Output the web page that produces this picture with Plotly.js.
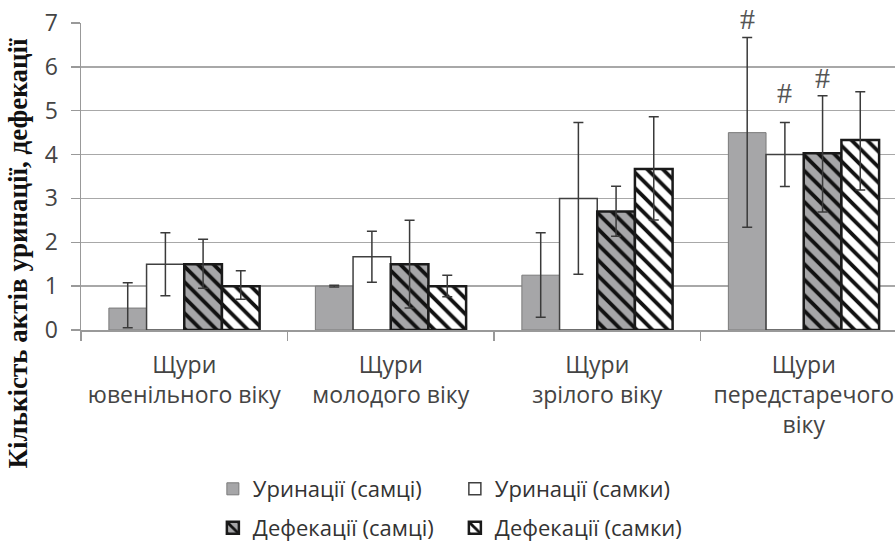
<!DOCTYPE html>
<html>
<head>
<meta charset="utf-8">
<script src="https://cdn.plot.ly/plotly-3.0.1.min.js"></script>
<style>html,body{margin:0;padding:0;background:#fff;}#chart{width:895px;height:546px;}</style>
</head>
<body>
<div id="chart"></div>
<script>
const categories = ["Щури<br>ювенільного віку", "Щури<br>молодого віку", "Щури<br>зрілого віку", "Щури<br>передстаречого<br>віку"];
const seriesNames = ["Уринації (самці)", "Уринації (самки)", "Дефекації (самці)", "Дефекації (самки)"];
const urinMale = [0.5, 1.0, 1.25, 4.5];
const urinFemale = [1.5, 1.67, 3.0, 4.0];
const defMale = [1.5, 1.5, 2.7, 4.03];
const defFemale = [1.0, 1.0, 3.67, 4.33];
const urinMaleErrPlus = [0.58, 0.02, 0.97, 2.17];
const urinMaleErrMinus = [0.45, 0.02, 0.96, 2.16];
const urinFemaleErr = [0.72, 0.58, 1.73, 0.73];
const defMaleErrPlus = [0.57, 1.0, 0.58, 1.31];
const defMaleErrMinus = [0.55, 1.0, 0.56, 1.34];
const defFemaleErrPlus = [0.35, 0.25, 1.19, 1.1];
const defFemaleErrMinus = [0.30, 0.24, 1.16, 1.14];
// significance marks: [series index, category index]
const hashMarks = [[0, 3], [1, 3], [2, 3]];
const yTicks = [0, 1, 2, 3, 4, 5, 6, 7];
const yTitle = "Кількість актів уринації, дефекації";

const font = "Open Sans, Noto Sans, sans-serif";
const bargap = 0.27;
const gray = "#a6a6a8";
const errStyle = {color: "#3a3a3a", thickness: 1.5, width: 5};

const values = [urinMale, urinFemale, defMale, defFemale];
const plusArr = [urinMaleErrPlus, urinFemaleErr, defMaleErrPlus, defFemaleErrPlus];
const minusArr = [urinMaleErrMinus, urinFemaleErr, defMaleErrMinus, defFemaleErrMinus];

const markers = [
  {color: gray, line: {color: "#7a7a7a", width: 1}},
  {color: "#ffffff", line: {color: "#404040", width: 1.5}},
  {color: gray, line: {color: "#1a1a1a", width: 2.5}, pattern: {shape: "\\", fgcolor: "#111", bgcolor: gray, size: 11, solidity: 0.35}},
  {color: "#ffffff", line: {color: "#1a1a1a", width: 2.5}, pattern: {shape: "\\", fgcolor: "#111", bgcolor: "#ffffff", size: 11, solidity: 0.35}}
];

const traces = values.map((v, i) => ({
  type: "bar",
  name: seriesNames[i],
  x: categories,
  y: v,
  marker: markers[i],
  legend: i < 2 ? "legend" : "legend2",
  error_y: Object.assign({type: "data", array: plusArr[i], arrayminus: minusArr[i], symmetric: false, visible: true}, errStyle),
  hoverinfo: "y"
}));

const barW = (1 - bargap) / 4;
const annotations = hashMarks.map(([s, c]) => ({
  x: c + (s - 1.5) * barW,
  y: values[s][c] + plusArr[s][c],
  xref: "x", yref: "y",
  text: "#", showarrow: false, yanchor: "bottom",
  yshift: s === 1 ? 12 : 0,
  font: {family: "Liberation Serif, serif", size: 30, color: "#555"}
}));
annotations.push({
  text: yTitle, textangle: -90, showarrow: false,
  xref: "paper", yref: "paper", x: -0.077, y: 0.25, xanchor: "center", yanchor: "middle",
  font: {family: "Liberation Serif, Times New Roman, serif", size: 27, color: "#111", weight: "bold"}
});

const legendFont = {family: font, size: 22, color: "#333"};
const layout = {
  width: 895, height: 546,
  margin: {l: 81, r: 0, t: 23, b: 216, autoexpand: false},
  paper_bgcolor: "#fff", plot_bgcolor: "#fff",
  barmode: "group", bargap: bargap, bargroupgap: 0,
  font: {family: font, color: "#444", size: 22},
  xaxis: {
    type: "category", range: [-0.5, 3.442],
    tickson: "boundaries", ticks: "outside", ticklen: 9, tickcolor: "#999", tickwidth: 1.5,
    showline: true, linecolor: "#999", linewidth: 1.5, ticklabelstandoff: 14,
    tickfont: {family: font, size: 23, color: "#444"},
    showgrid: false, zeroline: false
  },
  yaxis: {
    range: [0, 7], tickvals: yTicks, ticks: "outside", ticklen: 9, tickcolor: "#999", tickwidth: 1.5,
    showline: true, linecolor: "#999", linewidth: 1.5, ticklabelstandoff: 8,
    showgrid: true, gridcolor: "#a8a8a8", gridwidth: 1.5, zeroline: false,
    tickfont: {family: font, size: 23, color: "#444"}
  },
  legend: {orientation: "h", x: 0.162, xanchor: "left", y: -0.518, yanchor: "middle",
    entrywidth: 197, entrywidthmode: "pixels", font: legendFont, itemwidth: 30},
  legend2: {orientation: "h", x: 0.162, xanchor: "left", y: -0.645, yanchor: "middle",
    entrywidth: 197, entrywidthmode: "pixels", font: legendFont, itemwidth: 30},
  annotations: annotations,
  showlegend: true
};

Plotly.newPlot("chart", traces, layout, {displayModeBar: false, staticPlot: true});
</script>
</body>
</html>
